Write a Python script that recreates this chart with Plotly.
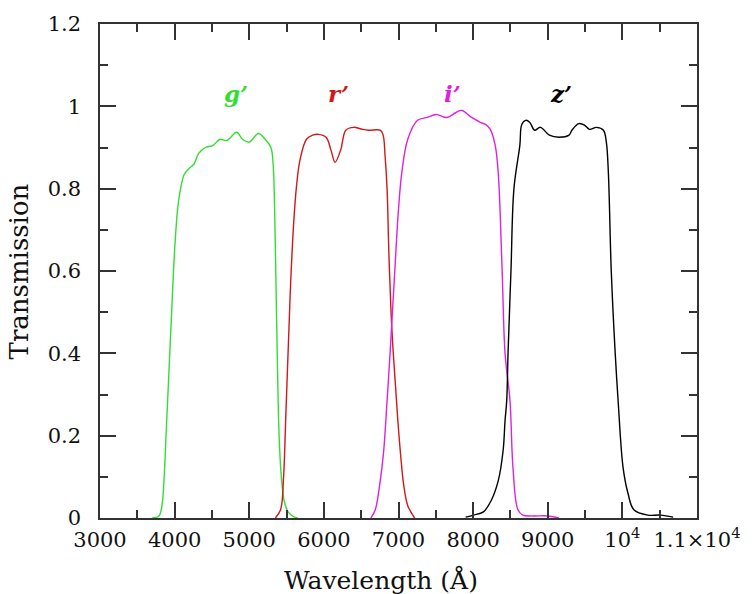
import plotly.graph_objects as go

# g' filter
g_wave = [3700, 3790, 3830, 3860, 3885, 3910, 3935, 3960, 3985, 4010, 4040, 4080, 4130, 4200, 4260, 4320,
          4410, 4515, 4607, 4700, 4831, 4910, 5000, 5121, 5213, 5290, 5320, 5340, 5360, 5380, 5400,
          5430, 5470, 5520, 5600, 5650]
g_trans = [0.0, 0.005, 0.03, 0.1, 0.2, 0.3, 0.4, 0.5, 0.6, 0.68, 0.75, 0.8, 0.835, 0.85, 0.86, 0.885,
           0.90, 0.905, 0.92, 0.917, 0.937, 0.92, 0.913, 0.934, 0.92, 0.90, 0.86, 0.75, 0.55, 0.35, 0.2,
           0.1, 0.04, 0.015, 0.003, 0.0]

# r' filter
r_wave = [5350, 5420, 5460, 5490, 5520, 5550, 5590, 5630, 5680, 5767, 5850, 5925, 6030, 6096, 6150,
          6228, 6294, 6400, 6500, 6597, 6755, 6794, 6820, 6847, 6870, 6900, 6930, 6960, 6990, 7030,
          7070, 7124, 7216]
r_trans = [0.0, 0.02, 0.1, 0.25, 0.4, 0.55, 0.7, 0.8, 0.87, 0.92, 0.93, 0.932, 0.925, 0.893, 0.864,
           0.896, 0.942, 0.949, 0.945, 0.942, 0.942, 0.93, 0.88, 0.80, 0.65, 0.5, 0.4, 0.32, 0.24, 0.15,
           0.08, 0.03, 0.0]

# i' filter
i_wave = [6630, 6689, 6755, 6800, 6847, 6887, 6950, 7000, 7045, 7124, 7255, 7387, 7505, 7651, 7770,
          7850, 7980, 8099, 8165, 8230, 8296, 8336, 8389, 8428, 8494, 8534, 8600, 8665, 8800, 9000, 9150]
i_trans = [0.0, 0.02, 0.09, 0.16, 0.285, 0.4, 0.6, 0.75, 0.84, 0.92, 0.966, 0.973, 0.98, 0.973, 0.985,
           0.99, 0.973, 0.961, 0.956, 0.944, 0.905, 0.84, 0.6, 0.4, 0.285, 0.123, 0.02, 0.007, 0.005, 0.005, 0.0]

# z' filter
z_wave = [7900, 8007, 8138, 8244, 8336, 8402, 8428, 8450, 8468, 8507, 8547, 8626, 8652, 8705, 8760,
          8823, 8902, 9021, 9153, 9285, 9324, 9416, 9495, 9561, 9653, 9746, 9785, 9812, 9851, 9904,
          9943, 10009, 10075, 10154, 10339, 10510, 10681]
z_trans = [0.002, 0.007, 0.015, 0.043, 0.09, 0.164, 0.237, 0.285, 0.4, 0.6, 0.8, 0.905, 0.956, 0.966, 0.961,
           0.942, 0.949, 0.93, 0.925, 0.93, 0.942, 0.958, 0.954, 0.944, 0.949, 0.942, 0.913, 0.84, 0.6, 0.4,
           0.285, 0.123, 0.06, 0.02, 0.007, 0.007, 0.002]

band_names = ["g’", "r’", "i’", "z’"]
band_label_x = [4820, 6200, 7730, 9180]
band_colors = ["#33dd33", "#d01818", "#dd22dd", "#000000"]

x_tickvals = [3000, 4000, 5000, 6000, 7000, 8000, 9000, 10000, 11000]
x_ticktext = ["3000", "4000", "5000", "6000", "7000", "8000", "9000", "10<sup>4</sup>", "1.1×10<sup>4</sup>"]
y_tickvals = [0, 0.2, 0.4, 0.6, 0.8, 1.0, 1.2]
y_ticktext = ["0", "0.2", "0.4", "0.6", "0.8", "1", "1.2"]

fig = go.Figure()
for wv, tr, col in zip([g_wave, r_wave, i_wave, z_wave], [g_trans, r_trans, i_trans, z_trans], band_colors):
    fig.add_trace(go.Scatter(x=wv, y=tr, mode="lines", line=dict(color=col, width=1.4),
                             line_shape="spline", showlegend=False))

for name, lx, col in zip(band_names, band_label_x, band_colors):
    fig.add_annotation(x=lx, y=1.03, xref="x", yref="y", text="<b>" + name + "</b>", showarrow=False,
                       font=dict(family="DejaVu Serif", size=23, color=col, style="italic"))

tickfont = dict(family="DejaVu Serif", size=21, color="#111")
common = dict(showgrid=False, zeroline=False, showline=True, linecolor="#333", linewidth=1.5,
              mirror="ticks", ticks="inside", tickcolor="#333", tickwidth=1.5, ticklen=16,
              tickfont=tickfont)
fig.update_xaxes(range=[3000, 11000], tickvals=x_tickvals, ticktext=x_ticktext,
                 minor=dict(tickvals=[3500, 4500, 5500, 6500, 7500, 8500, 9500, 10500],
                            ticks="inside", ticklen=8, tickcolor="#333", tickwidth=1.5),
                 ticklabelstandoff=2, **common)
fig.update_yaxes(range=[0, 1.2], tickvals=y_tickvals, ticktext=y_ticktext,
                 minor=dict(tickvals=[0.1, 0.3, 0.5, 0.7, 0.9, 1.1],
                            ticks="inside", ticklen=8, tickcolor="#333", tickwidth=1.5),
                 ticklabelstandoff=13, **common)

fig.add_annotation(x=0.47, y=-0.125, xref="paper", yref="paper", yanchor="middle", xanchor="center",
                   text="Wavelength (Å)", showarrow=False,
                   font=dict(family="DejaVu Serif", size=25, color="#111"))
fig.add_annotation(x=-0.135, y=0.5, xref="paper", yref="paper", xanchor="center", yanchor="middle",
                   text="Transmission", showarrow=False, textangle=-90,
                   font=dict(family="DejaVu Serif", size=26, color="#111"))

fig.update_layout(width=753, height=594, margin=dict(l=100, r=46, t=21, b=76),
                  paper_bgcolor="white", plot_bgcolor="white")
fig.write_html("out.html")
